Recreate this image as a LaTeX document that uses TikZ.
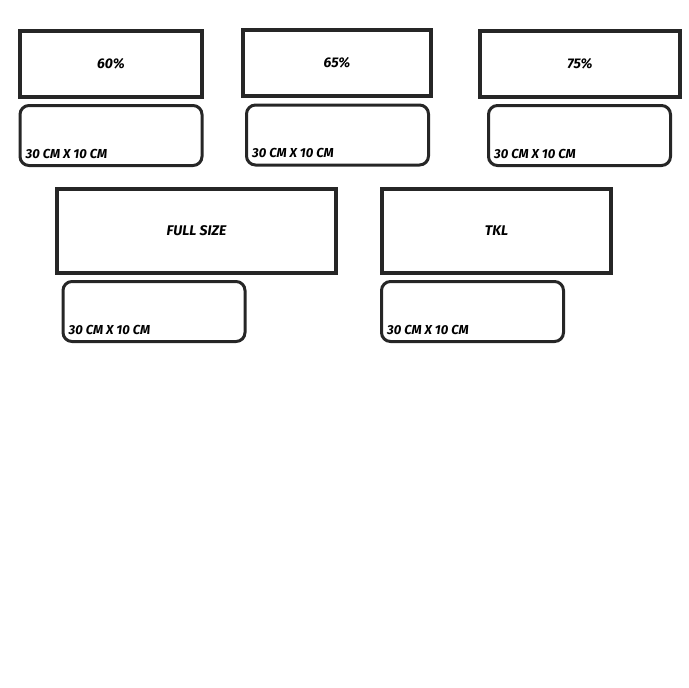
\documentclass[tikz,border=0pt]{standalone}
\usepackage{fontspec}
\setmainfont{Fira Sans}
\usetikzlibrary{positioning}

\begin{document}
\begin{tikzpicture}[
    x=1pt, y=-1pt,
    font=\bfseries\itshape\fontsize{13}{15}\selectfont,
    layout/.style={draw=black!85, line width=3.2pt, align=center,
      inner sep=0pt, text height=9pt, text depth=-1pt,
      font=\bfseries\itshape\fontsize{14}{16}\selectfont},
    plate/.style={draw=black!85, line width=3pt, rounded corners=9pt,
      inner sep=0pt, minimum width=182pt, minimum height=60pt},
    dim/.style={anchor=base west, inner sep=0pt, xshift=7pt, yshift=9pt},
  ]
    \useasboundingbox (0,0) rectangle (688,688);
    % top row
    \node[layout, minimum width=182pt, minimum height=66pt] (l60) at (111,64) {60\%};
    \node[plate] (p60) at (111,135.5) {};
    \node[dim] (d60) at (p60.south west) {30 CM X 10 CM};
    \node[layout, minimum width=188pt, minimum height=66pt] (l65) at (337,63) {65\%};
    \node[plate] (p65) at (337.5,135) {};
    \node[dim] (d65) at (p65.south west) {30 CM X 10 CM};
    \node[layout, minimum width=200pt, minimum height=66pt] (l75) at (580,64) {75\%};
    \node[plate] (p75) at (579.5,135.5) {};
    \node[dim] (d75) at (p75.south west) {30 CM X 10 CM};
    % bottom row
    \node[layout, minimum width=279pt, minimum height=84pt] (lfull) at (196.5,231) {FULL SIZE};
    \node[plate] (pfull) at (154,311.5) {};
    \node[dim] (dfull) at (pfull.south west) {30 CM X 10 CM};
    \node[layout, minimum width=229pt, minimum height=84pt] (ltkl) at (496.5,231) {TKL};
    \node[plate] (ptkl) at (472.5,311.5) {};
    \node[dim] (dtkl) at (ptkl.south west) {30 CM X 10 CM};
  \end{tikzpicture}
\end{document}
